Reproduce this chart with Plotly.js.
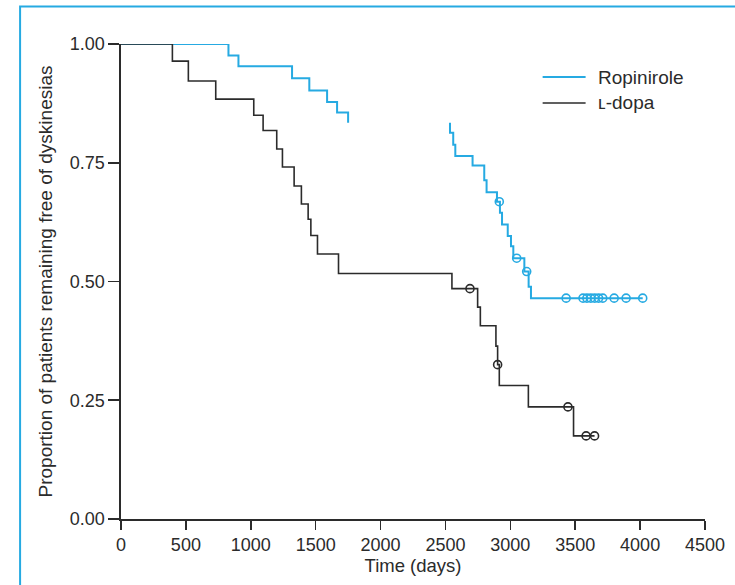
<!DOCTYPE html>
<html>
<head>
<meta charset="utf-8">
<script src="https://cdn.plot.ly/plotly-3.0.1.min.js"></script>
<style>html,body{margin:0;padding:0;background:#fff;}#chart{width:735px;height:585px;}</style>
</head>
<body>
<div id="chart"></div>
<script>
// Ropinirole Kaplan-Meier steps (gap in the middle of the curve as in the reference)
var ropTime = [0, 828, 905, 1318, 1451, 1588, 1665, 1750, null,
               2535, 2535, 2560, 2576, 2709, 2799, 2817, 2897, 2920, 2936, 2980, 3005, 3023, 3108, 3141, 3159, 4020];
var ropSurv = [1.00, 0.976, 0.953, 0.928, 0.902, 0.878, 0.856, 0.834, null,
               0.834, 0.813, 0.788, 0.764, 0.744, 0.713, 0.688, 0.668, 0.645, 0.620, 0.596, 0.574, 0.549, 0.521, 0.489, 0.465, 0.465];
var ropCensTime = [2915, 3049, 3126, 3430, 3560, 3590, 3620, 3650, 3680, 3712, 3800, 3892, 4020];
var ropCensSurv = [0.668, 0.549, 0.521, 0.465, 0.465, 0.465, 0.465, 0.465, 0.465, 0.465, 0.465, 0.465, 0.465];

// L-dopa Kaplan-Meier steps
var ldTime = [0, 396, 519, 730, 1023, 1095, 1200, 1244, 1334, 1390, 1442, 1463, 1514, 1676,
              2550, 2748, 2769, 2889, 2902, 2915, 3139, 3487, 3649];
var ldSurv = [1.00, 0.964, 0.922, 0.884, 0.850, 0.818, 0.779, 0.741, 0.701, 0.663, 0.631, 0.597, 0.558, 0.517,
              0.485, 0.446, 0.407, 0.364, 0.325, 0.281, 0.236, 0.175, 0.175];
var ldCensTime = [2689, 2902, 3444, 3584, 3649];
var ldCensSurv = [0.485, 0.325, 0.236, 0.175, 0.175];

var xTicks = [0, 500, 1000, 1500, 2000, 2500, 3000, 3500, 4000, 4500];
var yTicks = [0, 0.25, 0.5, 0.75, 1.0];
var yTickText = ['0.00', '0.25', '0.50', '0.75', '1.00'];
var seriesNames = ['Ropinirole', '\u029F-dopa'];

var blue = 'rgb(38,170,226)';
var dark = '#2b2b2b';
var fontFam = '"Liberation Sans", Arial, Helvetica, sans-serif';

var traces = [
  {x: ropTime, y: ropSurv, type: 'scatter', mode: 'lines', name: seriesNames[0],
   line: {shape: 'hv', color: blue, width: 2}, connectgaps: false, showlegend: false},
  {x: ropCensTime, y: ropCensSurv, type: 'scatter', mode: 'markers', name: seriesNames[0] + ' censored',
   marker: {symbol: 'circle-open', size: 8, color: blue, line: {width: 1.6, color: blue}}, showlegend: false},
  {x: ldTime, y: ldSurv, type: 'scatter', mode: 'lines', name: seriesNames[1],
   line: {shape: 'hv', color: dark, width: 1.6}, showlegend: false},
  {x: ldCensTime, y: ldCensSurv, type: 'scatter', mode: 'markers', name: seriesNames[1] + ' censored',
   marker: {symbol: 'circle-open', size: 8, color: dark, line: {width: 1.6, color: dark}}, showlegend: false}
];

var W = 735, H = 585, L = 121, R = 29.5, T = 44, B = 66;
var pw = W - L - R, ph = H - T - B;
function px2x(px) { return (px - L) / pw; }
function py2y(py) { return (H - B - py) / ph; }

var layout = {
  width: W, height: H,
  margin: {l: L, r: R, t: T, b: B, pad: 0},
  paper_bgcolor: '#fff', plot_bgcolor: '#fff',
  font: {family: fontFam, size: 18, color: dark},
  showlegend: false,
  xaxis: {
    range: [0, 4500], tickvals: xTicks, ticktext: xTicks.map(String),
    showline: true, linecolor: dark, linewidth: 1.6, ticks: 'outside', ticklen: 9, tickwidth: 1.6, tickcolor: dark,
    showgrid: false, zeroline: false, tickfont: {size: 18, color: dark},
    title: {text: 'Time (days)', font: {size: 18.5, color: dark}, standoff: 3}
  },
  yaxis: {
    range: [0, 1], tickvals: yTicks, ticktext: yTickText,
    showline: true, linecolor: dark, linewidth: 1.6, ticks: 'outside', ticklen: 11, tickwidth: 1.6, tickcolor: dark,
    showgrid: false, zeroline: false, tickfont: {size: 18, color: dark},
    title: {text: 'Proportion of patients remaining free of dyskinesias', font: {size: 19, color: dark}, standoff: 12}
  },
  shapes: [
    {type: 'rect', xref: 'paper', yref: 'paper', x0: px2x(20), x1: px2x(760), y0: py2y(620), y1: py2y(6.5),
     line: {color: blue, width: 2}, fillcolor: 'rgba(0,0,0,0)', layer: 'above'},
    {type: 'line', xref: 'paper', yref: 'paper', x0: px2x(543), x1: px2x(586), y0: py2y(77), y1: py2y(77),
     line: {color: blue, width: 2}},
    {type: 'line', xref: 'paper', yref: 'paper', x0: px2x(543), x1: px2x(586), y0: py2y(103), y1: py2y(103),
     line: {color: dark, width: 1.4}}
  ],
  annotations: [
    {xref: 'paper', yref: 'paper', x: px2x(596), y: py2y(77), xanchor: 'left', yanchor: 'middle',
     text: seriesNames[0], showarrow: false, font: {size: 19, color: dark}},
    {xref: 'paper', yref: 'paper', x: px2x(596), y: py2y(103), xanchor: 'left', yanchor: 'middle',
     text: seriesNames[1], showarrow: false, font: {size: 19, color: dark}}
  ]
};

Plotly.newPlot('chart', traces, layout, {displayModeBar: false, staticPlot: true});
</script>
</body>
</html>
